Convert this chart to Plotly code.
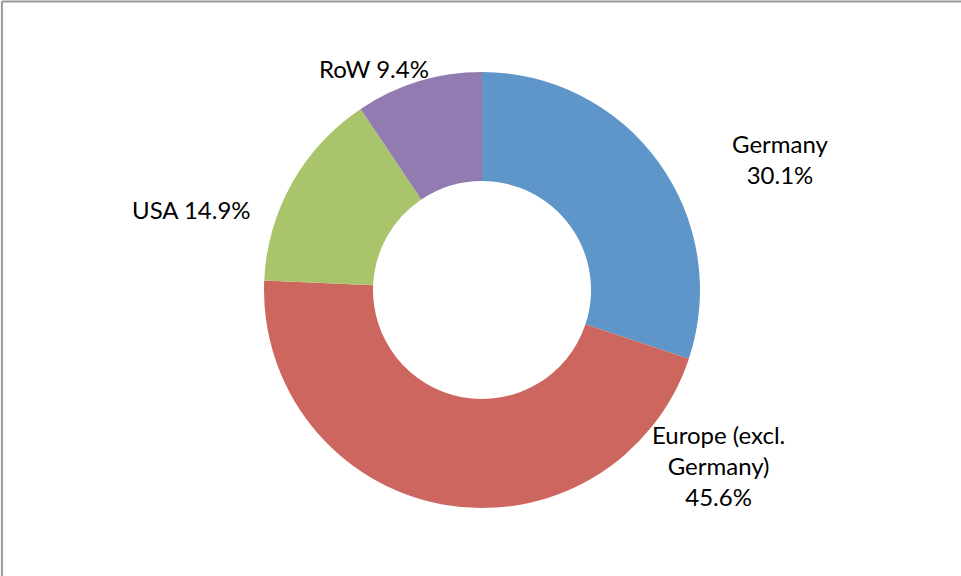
import plotly.graph_objects as go

labels = ["Germany", "Europe (excl. Germany)", "USA", "RoW"]
label_text = ["Germany<br>", "Europe (excl.<br>Germany)<br>", "USA ", "RoW "]
values = [30.1, 45.6, 14.9, 9.4]
colors = ["#5F96CA", "#CD665F", "#A9C46B", "#927BB0"]
# label centres (pixels in the 961x576 frame)
label_pos = [(780, 159), (718, 465), (191, 209), (374, 68)]

W, H = 961, 576
cx, cy, r = 482, 290, 218

texts = [f"{t}{v:.1f}%" for t, v in zip(label_text, values)]

fig = go.Figure(go.Pie(
    labels=labels,
    values=values,
    textinfo="none",
    marker=dict(colors=colors, line=dict(width=0)),
    hole=0.5,
    sort=False,
    direction="clockwise",
    rotation=0,
    showlegend=False,
    domain=dict(x=[(cx - r) / W, (cx + r) / W], y=[(H - cy - r) / H, (H - cy + r) / H]),
))

font = dict(family="Lato, Open Sans, sans-serif", size=24, color="#000000")
for t, (px, py) in zip(texts, label_pos):
    fig.add_annotation(x=px / W, y=1 - py / H, xref="paper", yref="paper",
                       text=t, showarrow=False, xanchor="center", yanchor="middle",
                       align="center", font=font)

fig.update_layout(
    width=W, height=H,
    margin=dict(l=0, r=0, t=0, b=0),
    paper_bgcolor="white",
    shapes=[
        dict(type="line", xref="paper", yref="paper", x0=0.002, x1=0.002, y0=0, y1=0.998,
             line=dict(color="#999999", width=2)),
        dict(type="line", xref="paper", yref="paper", x0=0.002, x1=1, y0=0.9975, y1=0.9975,
             line=dict(color="#999999", width=2)),
    ],
)

fig.write_html("out.html")
